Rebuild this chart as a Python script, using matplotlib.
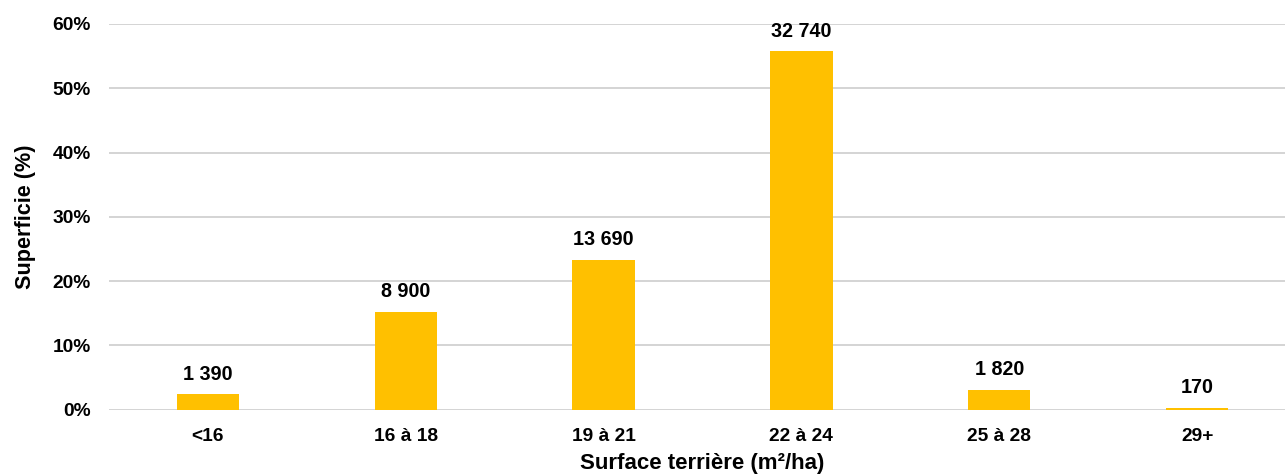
import matplotlib.pyplot as plt
from matplotlib.ticker import PercentFormatter

plt.rcParams['font.family'] = ['Liberation Sans', 'DejaVu Sans']
plt.rcParams['font.weight'] = 'bold'

# classes of basal area and their share of area
classes = ['<16', '16 à 18', '19 à 21', '22 à 24', '25 à 28', '29+']
pct_area = [2.4, 15.2, 23.3, 55.8, 3.1, 0.3]
hectares = [1390, 8900, 13690, 32740, 1820, 170]

bar_color = '#FFC000'

fig = plt.figure(figsize=(12.85, 4.74), dpi=100)
# axes runs a bit past the right edge, like the original crop
ax = fig.add_axes([109 / 1285, 1 - 409.5 / 474, 1187 / 1285, 385.5 / 474])

x = range(len(classes))
bars = ax.bar(x, pct_area, width=0.315, color=bar_color, zorder=3)

for b, h in zip(bars, hectares):
    lbl = f'{h:,}'.replace(',', ' ')
    ax.annotate(lbl, (b.get_x() + b.get_width() / 2, b.get_height()),
                xytext=(0, 7.5), textcoords='offset points',
                ha='center', va='bottom', fontsize=14.2, fontweight='bold')

ax.set_xlim(-0.5, len(classes) - 0.5)
ax.set_ylim(0, 60)
ax.set_yticks(range(0, 61, 10))
ax.yaxis.set_major_formatter(PercentFormatter(decimals=0))
ax.set_xticks(list(x))
ax.set_xticklabels(classes)

ax.grid(axis='y', color='#c9c9c9', linewidth=1.1, zorder=0)
for s in ax.spines.values():
    s.set_visible(False)
ax.tick_params(length=0, labelsize=13.8)
ax.tick_params(axis='x', pad=13)
ax.tick_params(axis='y', pad=13)

ax.set_xlabel('Surface terrière (m²/ha)', fontsize=16, fontweight='bold', labelpad=6)
ax.set_ylabel('Superficie (%)', fontsize=15.6, fontweight='bold', labelpad=12)

fig.savefig('out.png', dpi=100)
